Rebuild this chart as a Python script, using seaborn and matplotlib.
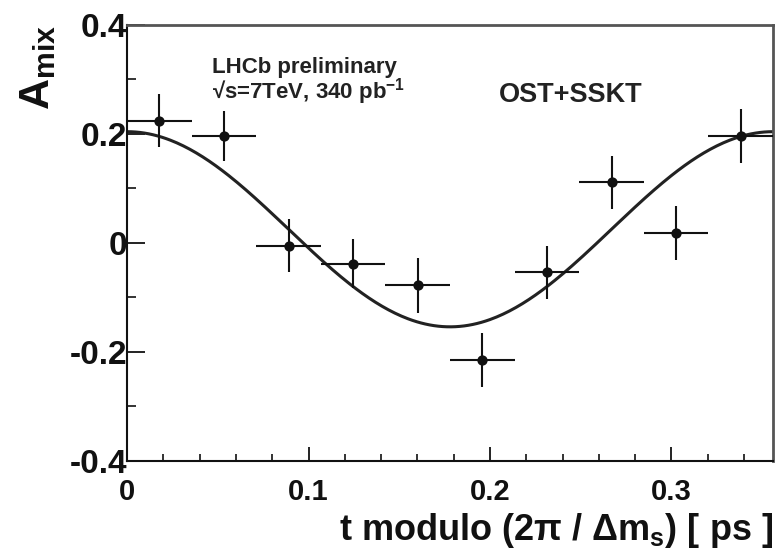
import numpy as np
import pandas as pd
import seaborn as sns
import matplotlib.pyplot as plt
from matplotlib.ticker import MultipleLocator

# binned asymmetry
t_centers = [0.0178, 0.0534, 0.0890, 0.1246, 0.1602, 0.1958, 0.2314, 0.2670, 0.3026, 0.3382]
t_halfwidth = [0.0178] * 10
a_mix = [0.224, 0.196, -0.005, -0.038, -0.078, -0.215, -0.054, 0.111, 0.018, 0.196]
a_err = [0.049, 0.046, 0.048, 0.045, 0.050, 0.049, 0.049, 0.048, 0.050, 0.049]

# fitted cosine (offset, amplitude, period)
FIT_OFFSET = 0.025
FIT_AMP = 0.179
PERIOD = 0.356

X_MAX = 0.356
INK = "#111111"
FONT = ["Liberation Sans", "DejaVu Sans"]

sns.set_theme(style="white")
plt.rcParams["font.family"] = FONT
plt.rcParams["font.weight"] = "bold"
plt.rcParams["mathtext.fontset"] = "custom"
plt.rcParams["mathtext.rm"] = "Liberation Sans:bold"
plt.rcParams["mathtext.it"] = "Liberation Sans:bold"
plt.rcParams["mathtext.bf"] = "Liberation Sans:bold"

points = pd.DataFrame({"t": t_centers, "A": a_mix})
t_fit = np.linspace(0, X_MAX, 300)
fit = pd.DataFrame({"t": t_fit, "A": FIT_OFFSET + FIT_AMP * np.cos(2 * np.pi * t_fit / PERIOD)})

fig = plt.figure(figsize=(7.8, 5.52), dpi=100, facecolor="white")
ax = fig.add_axes([0.163, 0.165, 0.828, 0.790])

sns.lineplot(data=fit, x="t", y="A", color="#222222", linewidth=2.2, ax=ax, zorder=2)
ax.errorbar(t_centers, a_mix, xerr=t_halfwidth, yerr=a_err, fmt="none",
            ecolor=INK, elinewidth=1.5, capsize=0, zorder=3)
sns.scatterplot(data=points, x="t", y="A", color=INK, s=55, edgecolor=INK,
                linewidth=0, ax=ax, zorder=4)

ax.set_xlim(0, X_MAX)
ax.set_ylim(-0.4, 0.4)
ax.xaxis.set_major_locator(MultipleLocator(0.1))
ax.xaxis.set_minor_locator(MultipleLocator(0.02))
ax.yaxis.set_major_locator(MultipleLocator(0.2))
ax.yaxis.set_minor_locator(MultipleLocator(0.1))
ax.xaxis.set_major_formatter(plt.FuncFormatter(lambda v, p: "0" if abs(v) < 1e-9 else f"{v:g}"))
ax.yaxis.set_major_formatter(plt.FuncFormatter(lambda v, p: "0" if abs(v) < 1e-9 else f"{v:.1f}"))

ax.tick_params(axis="x", which="major", direction="in", length=10, width=1.3,
               colors=INK, labelsize=21, pad=12, bottom=True, top=False)
ax.tick_params(axis="x", which="minor", direction="in", length=5, width=1.2,
               colors=INK, bottom=True, top=False)
ax.tick_params(axis="y", which="major", direction="in", length=13, width=1.3,
               colors=INK, labelsize=24, pad=0, left=True, right=False)
ax.tick_params(axis="y", which="minor", direction="in", length=6.5, width=1.2,
               colors=INK, left=True, right=False)
ax.grid(False)

for side in ["left", "bottom"]:
    ax.spines[side].set_color(INK)
    ax.spines[side].set_linewidth(1.5)
for side in ["top", "right"]:
    ax.spines[side].set_color("#555555")
    ax.spines[side].set_linewidth(2)

ax.set_xlabel(r"t modulo (2π / Δm$_{\mathregular{s}}$) [ ps ]", fontsize=26,
              fontweight="bold", color=INK, loc="right", labelpad=4)
ax.set_ylabel(r"A$_{\mathregular{mix}}$", fontsize=31, fontweight="bold",
              color=INK, loc="top", labelpad=8)

ax.text(0.131, 0.89, "LHCb preliminary", transform=ax.transAxes, fontsize=16,
        fontweight="bold", color="#222222", family=FONT)
ax.text(0.131, 0.83, r"√s=7TeV, 340 pb$^{\mathregular{-1}}$", transform=ax.transAxes,
        fontsize=16, fontweight="bold", color="#222222", family=FONT)
ax.text(0.687, 0.822, "OST+SSKT", transform=ax.transAxes, fontsize=19.5,
        fontweight="bold", color="#222222", ha="center", family=FONT)

fig.savefig("out.png", dpi=100, facecolor="white")
